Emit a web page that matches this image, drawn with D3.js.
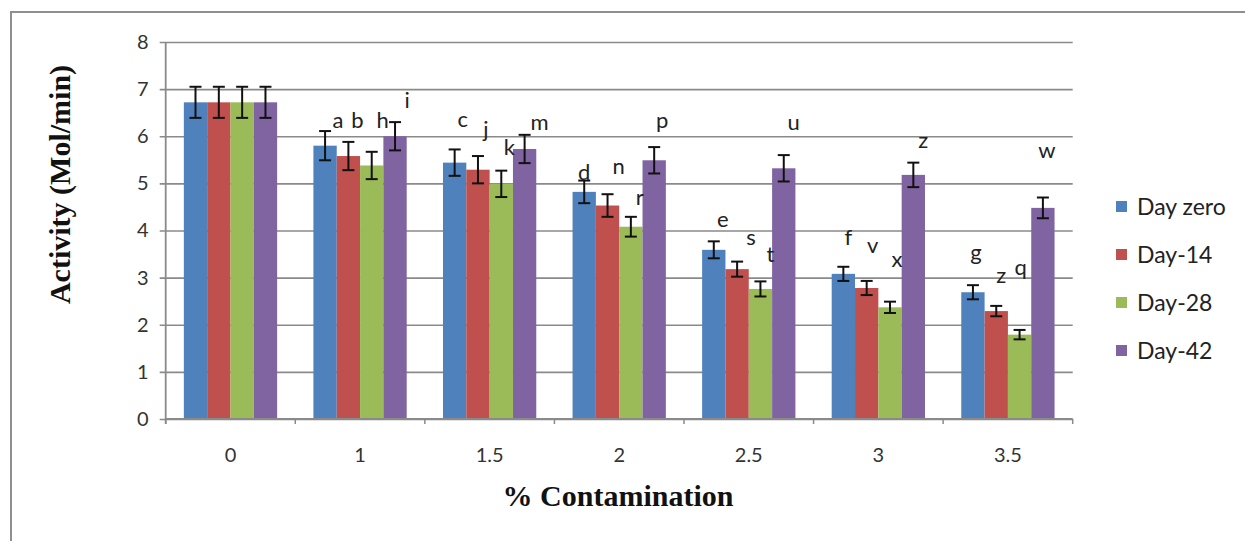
<!DOCTYPE html>
<html>
<head>
<meta charset="utf-8">
<script src="https://cdn.jsdelivr.net/npm/d3@7/dist/d3.min.js"></script>
<style>
  html, body { margin: 0; padding: 0; background: #fff; }
  svg { display: block; }
</style>
</head>
<body>
<svg id="chart" width="1245" height="541"></svg>
<script>
// ---------------- DATA ----------------
const categories = ["0", "1", "1.5", "2", "2.5", "3", "3.5"];
const seriesNames = ["Day zero", "Day-14", "Day-28", "Day-42"];
const yTicks = [0, 1, 2, 3, 4, 5, 6, 7, 8];

const dayZero  = [6.72, 5.80, 5.44, 4.82, 3.59, 3.08, 2.69];
const day14    = [6.72, 5.58, 5.29, 4.53, 3.18, 2.78, 2.29];
const day28    = [6.72, 5.38, 4.99, 4.08, 2.76, 2.37, 1.79];
const day42    = [6.72, 6.00, 5.73, 5.49, 5.32, 5.18, 4.48];

const errZero  = [0.33, 0.31, 0.28, 0.24, 0.18, 0.15, 0.15];
const err14    = [0.33, 0.30, 0.29, 0.24, 0.16, 0.15, 0.11];
const err28    = [0.33, 0.29, 0.28, 0.21, 0.16, 0.12, 0.10];
const err42    = [0.33, 0.30, 0.30, 0.28, 0.28, 0.26, 0.22];

// significance letters (empty = none)
const lettersZero = ["", "a", "c", "d", "e", "f", "g"];
const letters14   = ["", "b", "j", "n", "s", "v", "z"];
const letters28   = ["", "h", "k", "r", "t", "x", "q"];
const letters42   = ["", "i", "m", "p", "u", "z", "w"];

// letter baseline levels, in data units
const levelZero = [0, 6.17, 6.20, 5.07, 4.07, 3.69, 3.37];
const level14   = [0, 6.17, 5.98, 5.20, 3.69, 3.52, 2.89];
const level28   = [0, 6.17, 5.60, 4.54, 3.34, 3.23, 3.06];
const level42   = [0, 6.60, 6.13, 6.17, 6.13, 5.75, 5.54];

// ---------------- LAYOUT / STYLE ----------------
const colors = ["#4F81BD", "#C0504D", "#9BBB59", "#8064A2"];
const values = [dayZero, day14, day28, day42];
const errors = [errZero, err14, err28, err42];
const letters = [lettersZero, letters14, letters28, letters42];
const levels = [levelZero, level14, level28, level42];
// horizontal nudge of each letter relative to its bar centre (px)
const letterNudge = [
  [0, 13, 8, 0, 9, 5, 3],
  [0, 9, 8, 11, 14, 6, 5],
  [0, 11, 8, 9, 10, 7, 1],
  [0, 12, 15, 8, 10, 10, 4]
];

const plot = { left: 165.7, right: 1072.7, top: 42, bottom: 419 };
const svg = d3.select("#chart");
const sans = "Lato, 'Open Sans', sans-serif";

// outer frame
svg.append("rect")
  .attr("x", 11).attr("y", 12)
  .attr("width", 1300).attr("height", 600)
  .attr("fill", "none").attr("stroke", "#8f8f8f").attr("stroke-width", 2);

const x0 = d3.scaleBand().domain(categories)
  .range([plot.left, plot.right])
  .paddingInner(0.28).paddingOuter(0.14);
const x1 = d3.scaleBand().domain(d3.range(seriesNames.length))
  .range([0, x0.bandwidth()]);
const y = d3.scaleLinear().domain([0, 8]).range([plot.bottom, plot.top]);

// gridlines + y ticks
const yAxis = d3.axisLeft(y).tickValues(yTicks)
  .tickSize(-(plot.right - plot.left)).tickFormat(d3.format("d")).tickPadding(17);
const gy = svg.append("g").attr("transform", `translate(${plot.left},0)`).call(yAxis);
gy.select(".domain").remove();
gy.selectAll(".tick line").attr("stroke", "#8a8a8a").attr("stroke-width", 1.6)
  .attr("x2", plot.right - plot.left).attr("x1", -6);
gy.selectAll(".tick text")
  .attr("fill", "#333")
  .style("font-family", sans)
  .style("font-size", "20px");

// bars
const groups = svg.append("g").selectAll("g")
  .data(categories).join("g")
  .attr("transform", d => `translate(${x0(d)},0)`);

seriesNames.forEach((name, s) => {
  groups.append("rect")
    .attr("x", x1(s))
    .attr("width", x1.bandwidth())
    .attr("y", (d, i) => y(values[s][i]))
    .attr("height", (d, i) => y(0) - y(values[s][i]))
    .attr("fill", colors[s]);
});

// y axis line
svg.append("line")
  .attr("x1", plot.left).attr("x2", plot.left)
  .attr("y1", plot.top).attr("y2", plot.bottom + 5)
  .attr("stroke", "#8a8a8a").attr("stroke-width", 1.8);

// x axis
const xAxisG = svg.append("g");
xAxisG.append("line")
  .attr("x1", plot.left).attr("x2", plot.right)
  .attr("y1", plot.bottom).attr("y2", plot.bottom)
  .attr("stroke", "#8a8a8a").attr("stroke-width", 1.8);
const boundaries = categories.map(c => x0(c) - x0.step() * x0.paddingInner() / 2)
  .concat([plot.right]);
xAxisG.selectAll("line.tk").data(boundaries).join("line").attr("class", "tk")
  .attr("x1", d => d).attr("x2", d => d)
  .attr("y1", plot.bottom).attr("y2", plot.bottom + 5)
  .attr("stroke", "#8a8a8a").attr("stroke-width", 1.5);
xAxisG.selectAll("text").data(categories).join("text")
  .attr("x", d => x0(d) + x0.bandwidth() / 2)
  .attr("y", 462)
  .attr("text-anchor", "middle")
  .attr("fill", "#333")
  .style("font-family", sans)
  .style("font-size", "20px")
  .text(d => d);

// error bars
seriesNames.forEach((name, s) => {
  const g = svg.append("g");
  categories.forEach((c, i) => {
    const cx = x0(c) + x1(s) + x1.bandwidth() / 2;
    const v = values[s][i], e = errors[s][i];
    g.append("line").attr("x1", cx).attr("x2", cx)
      .attr("y1", y(v + e)).attr("y2", y(v - e));
    g.append("line").attr("x1", cx - 6).attr("x2", cx + 6)
      .attr("y1", y(v + e)).attr("y2", y(v + e));
    g.append("line").attr("x1", cx - 6).attr("x2", cx + 6)
      .attr("y1", y(v - e)).attr("y2", y(v - e));
  });
  g.selectAll("line").attr("stroke", "#111").attr("stroke-width", 2);
});

// letters
seriesNames.forEach((name, s) => {
  categories.forEach((c, i) => {
    const t = letters[s][i];
    if (!t) return;
    svg.append("text")
      .attr("x", x0(c) + x1(s) + x1.bandwidth() / 2 + letterNudge[s][i])
      .attr("y", y(levels[s][i]))
      .attr("text-anchor", "middle")
      .attr("fill", "#222")
      .style("font-family", sans)
      .style("font-size", "22px")
      .text(t);
  });
});

// axis titles
svg.append("text")
  .attr("transform", `translate(70,${(plot.top + plot.bottom) / 2 - 46}) rotate(-90)`)
  .attr("text-anchor", "middle")
  .style("font-family", "'Liberation Serif', 'Times New Roman', serif")
  .style("font-weight", "bold")
  .style("font-size", "30px")
  .attr("fill", "#111")
  .text("Activity (Mol/min)");

svg.append("text")
  .attr("x", 618).attr("y", 506)
  .attr("text-anchor", "middle")
  .style("font-family", "'Liberation Serif', 'Times New Roman', serif")
  .style("font-weight", "bold")
  .style("font-size", "30px")
  .attr("fill", "#111")
  .text("% Contamination");

// legend
const legend = svg.append("g").attr("transform", "translate(1116,207)");
const li = legend.selectAll("g").data(seriesNames).join("g")
  .attr("transform", (d, i) => `translate(0,${i * 48})`);
li.append("rect").attr("x", 0).attr("y", -6).attr("width", 11).attr("height", 11)
  .attr("fill", (d, i) => colors[i]);
li.append("text").attr("x", 21).attr("y", 0).attr("dy", "0.36em")
  .attr("fill", "#222")
  .style("font-family", sans)
  .style("font-size", "23px")
  .text(d => d);
</script>
</body>
</html>
